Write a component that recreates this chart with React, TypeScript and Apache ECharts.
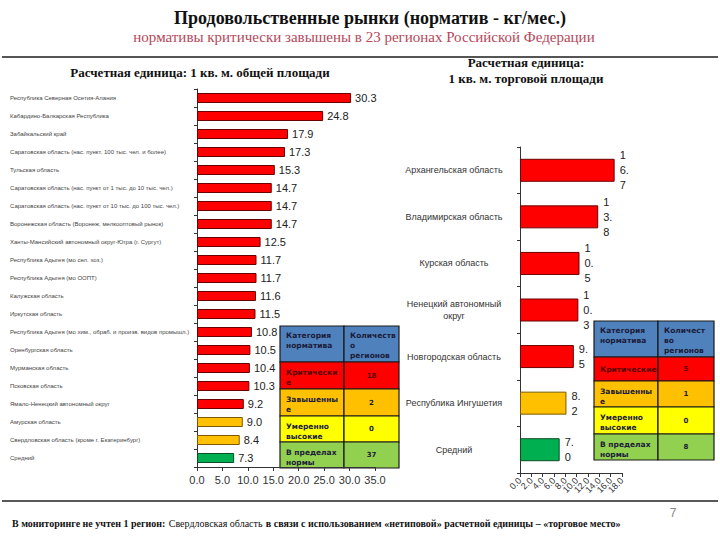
import React, { useEffect, useRef } from "react";
import * as echarts from "echarts";

// ---------- DATA ----------
const leftCategories = [
  "Республика Северная Осетия-Алания",
  "Кабардино-Балкарская Республика",
  "Забайкальский край",
  "Саратовская область (нас. пункт. 100 тыс. чел. и более)",
  "Тульская область",
  "Саратовская область (нас. пункт от 1 тыс. до 10 тыс. чел.)",
  "Саратовская область (нас. пункт от 10 тыс. до 100 тыс. чел.)",
  "Воронежская область (Воронеж, мелкооптовый рынок)",
  "Ханты-Мансийский автономный округ-Югра (г. Сургут)",
  "Республика Адыгея (мо сел. хоз.)",
  "Республика Адыгея (мо ООПТ)",
  "Калужская область",
  "Иркутская область",
  "Республика Адыгея (мо хим., обраб. и произв. видов промышл.)",
  "Оренбургская область",
  "Мурманская область",
  "Псковская область",
  "Ямало-Ненецкий автономный округ",
  "Амурская область",
  "Свердловская область (кроме г. Екатеринбург)",
  "Средний",
];
const leftValues = [30.3, 24.8, 17.9, 17.3, 15.3, 14.7, 14.7, 14.7, 12.5, 11.7, 11.7, 11.6, 11.5, 10.8, 10.5, 10.4, 10.3, 9.2, 9.0, 8.4, 7.3];
const leftTiers = ["crit", "crit", "crit", "crit", "crit", "crit", "crit", "crit", "crit", "crit", "crit", "crit", "crit", "crit", "crit", "crit", "crit", "crit", "high", "high", "avg"];

const rightCategories = [
  "Архангельская область",
  "Владимирская область",
  "Курская область",
  "Ненецкий автономный\nокруг",
  "Новгородская область",
  "Республика Ингушетия",
  "Средний",
];
const rightValues = [16.7, 13.8, 10.5, 10.3, 9.5, 8.2, 7.0];
const rightTiers = ["crit", "crit", "crit", "crit", "crit", "high", "avg"];

const leftAxis = { min: 0, max: 35, interval: 5 };
const rightAxis = { min: 0, max: 18, interval: 2 };
const rightTickLabels = ["0.0", "2.0", "4.0", "6.0", "8.0", "10.0", "12.0", "14.0", "16.0", "18.0"];

const tableHeaderLeft = ["Категория\nнорматива", "Количеств\nо\nрегионов"];
const tableLabelsLeft = ["Критически\nе", "Завышенны\nе", "Умеренно\nвысокие", "В пределах\nнормы"];
const tableCountsLeft = [18, 2, 0, 37];

const tableHeaderRight = ["Категория\nнорматива", "Количест\nво\nрегионов"];
const tableLabelsRight = ["Критические", "Завышенны\nе", "Умеренно\nвысокие", "В пределах\nнормы"];
const tableCountsRight = [5, 1, 0, 8];

const titleText = "Продовольственные рынки (норматив - кг/мес.)";
const subtitleText = "нормативы критически завышены в 23 регионах Российской Федерации";
const leftUnitText = "Расчетная единица: 1 кв. м. общей площади";
const rightUnitText = "Расчетная единица:\n1 кв. м. торговой площади";
const pageNumber = "7";

// ---------- STYLES ----------
const tierFill: Record<string, string> = { crit: "#ff0000", high: "#ffc000", avg: "#00b050" };
const tierBorder: Record<string, string> = { crit: "#6b0000", high: "#7a5a00", avg: "#0b4d25" };
const rowFills = ["#ff0000", "#ffc000", "#ffff00", "#92d050"];
const headerFill = "#4f81bd";
const SERIF = "'Liberation Serif', 'DejaVu Serif', serif";
const SANS = "'Liberation Sans', 'DejaVu Sans', sans-serif";
const TABLE_FONT = "'DejaVu Sans', 'Liberation Sans', sans-serif";

function buildTable(
  x0: number, x1: number, x2: number, rowYs: number[],
  header: string[], labels: string[], counts: number[], fs: number
) {
  const els: any[] = [];
  const fills = [headerFill, ...rowFills];
  for (let r = 0; r < rowYs.length - 1; r++) {
    const y = rowYs[r];
    const h = rowYs[r + 1] - rowYs[r];
    els.push({ type: "rect", shape: { x: x0, y, width: x1 - x0, height: h }, style: { fill: fills[r], stroke: "#1a1a1a", lineWidth: 1.2 } });
    els.push({ type: "rect", shape: { x: x1, y, width: x2 - x1, height: h }, style: { fill: fills[r], stroke: "#1a1a1a", lineWidth: 1.2 } });
  }
  const txt = "#1c1c3a";
  els.push({ type: "text", x: x0 + 6, y: rowYs[0] + 4, style: { text: header[0], font: `bold ${fs}px ${TABLE_FONT}`, fill: txt, lineHeight: fs + 2.5, align: "left", verticalAlign: "top" } });
  els.push({ type: "text", x: x1 + 6, y: rowYs[0] + 4, style: { text: header[1], font: `bold ${fs}px ${TABLE_FONT}`, fill: txt, lineHeight: fs + 2.5, align: "left", verticalAlign: "top" } });
  for (let i = 0; i < labels.length; i++) {
    const y = rowYs[i + 1];
    const h = rowYs[i + 2] - y;
    const multi = labels[i].includes("\n");
    els.push({
      type: "text", x: x0 + 6, y: multi ? y + 5 : y + h / 2,
      style: { text: labels[i], font: `bold ${fs}px ${TABLE_FONT}`, fill: i === 0 ? "#5a0000" : txt, lineHeight: fs + 3, align: "left", verticalAlign: multi ? "top" : "middle" },
    });
    els.push({
      type: "text", x: (x1 + x2) / 2, y: y + h / 2,
      style: { text: String(counts[i]), font: `bold ${fs - 0.5}px ${TABLE_FONT}`, fill: i === 0 ? "#5a0000" : txt, align: "center", verticalAlign: "middle" },
    });
  }
  return els;
}

function splitDigits(v: number): string {
  const s = v.toFixed(1);
  const parts = s.match(/\d\.?/g) || [s];
  return parts.join("\n");
}

export default function App() {
  const ref = useRef<HTMLDivElement>(null);
  useEffect(() => {
    document.body.style.margin = "0";
    if (!ref.current) return;
    const chart = echarts.init(ref.current, undefined, { renderer: "svg" });

    const leftData = leftValues.map((v, i) => ({
      value: v,
      itemStyle: { color: tierFill[leftTiers[i]], borderColor: tierBorder[leftTiers[i]], borderWidth: 1 },
    }));
    const rightData = rightValues.map((v, i) => ({
      value: v,
      itemStyle: { color: tierFill[rightTiers[i]], borderColor: tierBorder[rightTiers[i]], borderWidth: 1 },
    }));

    const option: any = {
      animation: false,
      backgroundColor: "#ffffff",
      grid: [
        { left: 197, top: 89, width: 178, height: 378 },
        { left: 520, top: 147, width: 102, height: 326 },
      ],
      xAxis: [
        {
          type: "value", gridIndex: 0, min: leftAxis.min, max: leftAxis.max, interval: leftAxis.interval,
          axisLine: { show: true, lineStyle: { color: "#333", width: 1 } },
          axisTick: { show: true, length: 4, lineStyle: { color: "#333" } },
          splitLine: { show: false },
          axisLabel: { formatter: (v: number) => v.toFixed(1), fontFamily: SANS, fontSize: 11, color: "#333", margin: 7, showMinLabel: true, showMaxLabel: true },
        },
        {
          type: "value", gridIndex: 1, min: rightAxis.min, max: rightAxis.max, interval: rightAxis.interval,
          position: "bottom",
          axisLine: { show: true, lineStyle: { color: "#333", width: 1 } },
          axisTick: { show: true, length: 4, lineStyle: { color: "#333" } },
          splitLine: { show: false },
          axisLabel: { show: false },
        },
        {
          type: "category", gridIndex: 1, data: rightTickLabels, boundaryGap: false,
          position: "bottom",
          axisLine: { show: false },
          axisTick: { show: false },
          splitLine: { show: false },
          axisPointer: { show: false },
          axisLabel: { interval: 0, fontFamily: SANS, fontSize: 9, color: "#333", rotate: 45, margin: 6 },
        },
      ],
      yAxis: [
        {
          type: "category", gridIndex: 0, data: leftCategories, inverse: true,
          axisLine: { show: true, lineStyle: { color: "#333", width: 1 } },
          axisTick: { show: true, length: 3, lineStyle: { color: "#333" } },
          axisLabel: { align: "left", margin: 187, fontFamily: SANS, fontSize: 6, color: "#444", interval: 0 },
        },
        {
          type: "category", gridIndex: 1, data: rightCategories, inverse: true,
          axisLine: { show: true, lineStyle: { color: "#333", width: 1 } },
          axisTick: { show: true, length: 3, lineStyle: { color: "#333" } },
          axisLabel: { align: "center", margin: 66, fontFamily: SANS, fontSize: 9, color: "#333", lineHeight: 12, interval: 0 },
        },
      ],
      series: [
        {
          type: "bar", xAxisIndex: 0, yAxisIndex: 0, data: leftData, barWidth: 10,
          label: { show: true, position: "right", distance: 4, formatter: (p: any) => Number(p.value).toFixed(1), fontFamily: SANS, fontSize: 11, color: "#222" },
        },
        {
          type: "bar", xAxisIndex: 1, yAxisIndex: 1, data: rightData, barWidth: 23,
          label: { show: true, position: "right", distance: 5, formatter: (p: any) => splitDigits(Number(p.value)), fontFamily: SANS, fontSize: 11, color: "#222", lineHeight: 15 },
        },
      ],
      graphic: [
        { type: "text", x: 370, y: 18, style: { text: titleText, font: `bold 18px ${SERIF}`, fill: "#111", align: "center", verticalAlign: "middle" } },
        { type: "text", x: 364, y: 37, style: { text: subtitleText, font: `15px ${SERIF}`, fill: "#b5485a", align: "center", verticalAlign: "middle" } },
        { type: "line", shape: { x1: 2, y1: 57, x2: 718, y2: 57 }, style: { stroke: "#555", lineWidth: 2 } },
        { type: "text", x: 200, y: 72, style: { text: leftUnitText, font: `bold 13px ${SERIF}`, fill: "#111", align: "center", verticalAlign: "middle" } },
        { type: "text", x: 526, y: 70, style: { text: rightUnitText, font: `bold 13px ${SERIF}`, fill: "#111", align: "center", verticalAlign: "middle", lineHeight: 16 } },
        ...buildTable(280, 344, 399, [326, 362, 389, 416, 442, 468], tableHeaderLeft, tableLabelsLeft, tableCountsLeft, 7.5),
        ...buildTable(594, 658, 714, [321, 357, 381, 407, 434, 460], tableHeaderRight, tableLabelsRight, tableCountsRight, 7.5),
        { type: "line", shape: { x1: 2, y1: 501, x2: 718, y2: 501 }, style: { stroke: "#222", lineWidth: 1.5 } },
        { type: "text", x: 673, y: 513, style: { text: pageNumber, font: `12px ${SANS}`, fill: "#888", align: "center", verticalAlign: "middle" } },
        {
          type: "text", x: 12, y: 523,
          style: {
            text: "{b|В мониторинге не учтен 1 регион:} {n|Свердловская область} {b|в связи с использованием «нетиповой» расчетной единицы – «торговое место»}",
            verticalAlign: "middle", align: "left",
            rich: {
              b: { fontFamily: SERIF, fontWeight: "bold", fontSize: 10, fill: "#111" },
              n: { fontFamily: SERIF, fontSize: 10, fill: "#111" },
            },
          },
        },
      ],
    };
    chart.setOption(option);
    return () => chart.dispose();
  }, []);
  return <div ref={ref} style={{ width: 720, height: 540 }} />;
}
